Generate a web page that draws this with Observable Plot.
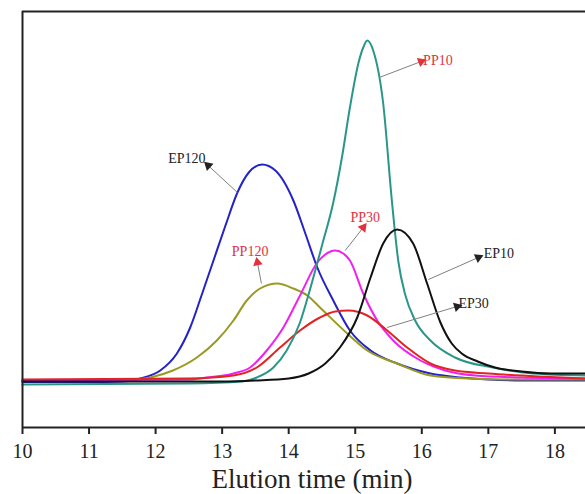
<!DOCTYPE html>
<html>
<head>
<meta charset="utf-8">
<script src="https://cdn.jsdelivr.net/npm/d3@7"></script>
<script src="https://cdn.jsdelivr.net/npm/@observablehq/plot@0.6"></script>
<style>
  body { margin: 0; background: #fff; }
  svg [aria-label="x-axis tick"] path { stroke-width: 2px; }
  svg [aria-label="x-axis"] .tick line { stroke-width: 2px; }
</style>
</head>
<body>
<div id="chart"></div>
<script>
// ---- data (x: elution time in min, y: detector signal, arbitrary units) ----
const TICKS = [10, 11, 12, 13, 14, 15, 16, 17, 18];
const X_TITLE = "Elution time (min)";

const EP120 = [[10,45.5],[11,45.5],[11.5,46],[11.77,49],[12.07,57],[12.32,74],[12.52,100],[12.7,134],[12.87,167],[13.05,202],[13.23,235],[13.4,255],[13.6,263],[13.8,257],[14.07,227],[14.25,194],[14.43,160],[14.67,127],[14.92,97],[15.23,77],[15.63,64],[16.13,54],[16.58,50],[17,48],[17.5,47],[18.46,47]];
const PP120 = [[10,47],[11.5,47],[11.92,50],[12.26,57],[12.62,70],[12.92,87],[13.17,107],[13.37,127],[13.57,139],[13.83,144],[14.07,139],[14.28,132],[14.47,120],[14.88,94],[15.18,77],[15.63,64],[16.13,52],[16.7,49],[17.5,48],[18.46,48]];
const PP30 = [[10,47],[12.5,48],[12.77,50],[13.17,54],[13.42,60],[13.67,77],[13.92,100],[14.17,132],[14.43,165],[14.55,173],[14.7,177],[14.82,174],[14.92,167],[15.12,134],[15.33,107],[15.57,87],[15.98,67],[16.35,57],[16.8,52],[17.5,50],[18.46,49]];
const EP30 = [[10,48],[12.5,49],[13.17,52],[13.52,60],[13.87,80],[14.17,97],[14.47,110],[14.7,116],[14.9,117],[15.18,112],[15.48,97],[15.78,80],[16.13,64],[16.5,57],[17,54],[17.75,51],[18.46,49]];
const PP10 = [[10,43],[12.5,44],[13.3,46],[13.52,50],[13.77,60],[13.97,77],[14.17,105],[14.32,138],[14.5,182],[14.67,225],[14.8,270],[14.92,320],[15.05,365],[15.12,380],[15.18,387],[15.27,377],[15.42,324],[15.55,227],[15.65,165],[15.75,133],[15.9,107],[16.13,87],[16.5,70],[17.07,60],[17.67,54],[18.46,52]];
const EP10 = [[10,46],[13,46],[13.5,47],[14,49],[14.3,54],[14.55,64],[14.77,80],[15.03,110],[15.23,150],[15.42,184],[15.63,198],[15.87,184],[16.08,144],[16.28,105],[16.45,84],[16.6,74],[16.84,66],[17.1,60],[17.5,56],[17.94,54],[18.46,54]];

const SERIES_NAMES  = ["EP120", "PP120", "PP30", "EP30", "PP10", "EP10"];
const SERIES_DATA   = [EP120, PP120, PP30, EP30, PP10, EP10];
const SERIES_COLORS = ["#2323c8", "#9a9a22", "#f020f0", "#e02424", "#2a968a", "#111111"];

// annotations (data coordinates)
const LABELS      = ["EP120", "PP120", "PP30", "PP10", "EP10", "EP30"];
const ARROW_FROM  = [[13.23,235],[13.59,144],[14.85,177],[15.36,350],[16.10,148],[15.48,100]];
const ARROW_TO    = [[12.79,262],[13.53,165],[15.12,200],[15.99,366],[16.85,170],[16.53,121]];
const LABEL_AT    = [[12.47,269],[13.42,176],[15.15,210],[16.02,367],[16.93,174],[16.55,124]];
const LABEL_ALIGN = ["middle", "middle", "middle", "start", "start", "start"];
const LABEL_COLOR = ["#222222", "#e0323f", "#e0323f", "#e0323f", "#222222", "#222222"];

// ---- build tables ----
const rows = SERIES_DATA.flatMap((pts, i) =>
  pts.map(([t, v]) => ({name: SERIES_NAMES[i], t, v})));

const XDOM = [10, 18.46], YDOM = [0, 416];
const W = 585, H = 494, ML = 22, MR = 0, MT = 11, MB = 67;
const xs = d3.scaleLinear(XDOM, [ML, W - MR]);
const ys = d3.scaleLinear(YDOM, [H - MB, MT]);

const ann = LABELS.map((label, i) => {
  const [x1, y1] = ARROW_FROM[i], [x2, y2] = ARROW_TO[i];
  const dx = xs(x2) - xs(x1), dy = ys(y2) - ys(y1);
  const ang = Math.atan2(dx, -dy) * 180 / Math.PI;
  return {label, x1, y1, x2, y2, ang, lx: LABEL_AT[i][0], ly: LABEL_AT[i][1],
          align: LABEL_ALIGN[i], color: LABEL_COLOR[i]};
});

const marks = [];
SERIES_NAMES.forEach((name, i) => {
  marks.push(Plot.line(rows.filter(d => d.name === name), {
    x: "t", y: "v", stroke: SERIES_COLORS[i], strokeWidth: 2, curve: "monotone-x"
  }));
});
// frame lines
marks.push(Plot.ruleY([YDOM[0]], {stroke: "#222", strokeWidth: 2}));
marks.push(Plot.ruleY([YDOM[1]], {stroke: "#222", strokeWidth: 2}));
marks.push(Plot.ruleX([XDOM[0]], {stroke: "#222", strokeWidth: 2}));
// arrows
marks.push(Plot.link(ann, {x1: "x1", y1: "y1", x2: "x2", y2: "y2", stroke: "#808080", strokeWidth: 1}));
marks.push(Plot.dot(ann, {x: "x2", y: "y2", symbol: "triangle", r: 3.6, rotate: "ang",
  fill: d => d.color, stroke: "none"}));
// labels
["middle", "start"].forEach(al => {
  marks.push(Plot.text(ann.filter(d => d.align === al), {
    x: "lx", y: "ly", text: "label", fill: d => d.color, textAnchor: al,
    fontSize: 14, fontFamily: "'Liberation Serif', 'Times New Roman', serif"
  }));
});
// x title
marks.push(Plot.text([X_TITLE], {x: 14.35, y: YDOM[0], dy: 52, text: d => d, fontSize: 27,
  fill: "#222", fontFamily: "'Liberation Serif', 'Times New Roman', serif"}));

const chart = Plot.plot({
  width: W, height: H,
  marginLeft: ML, marginRight: MR, marginTop: MT, marginBottom: MB,
  style: {fontFamily: "'Liberation Serif', 'Times New Roman', serif", fontSize: "20px",
          color: "#222", background: "#fff", overflow: "visible"},
  x: {domain: XDOM, ticks: TICKS, tickSize: 7, tickPadding: 9, tickFormat: d => String(d), label: null},
  y: {domain: YDOM, axis: null},
  marks
});
document.getElementById("chart").appendChild(chart);
</script>
</body>
</html>
